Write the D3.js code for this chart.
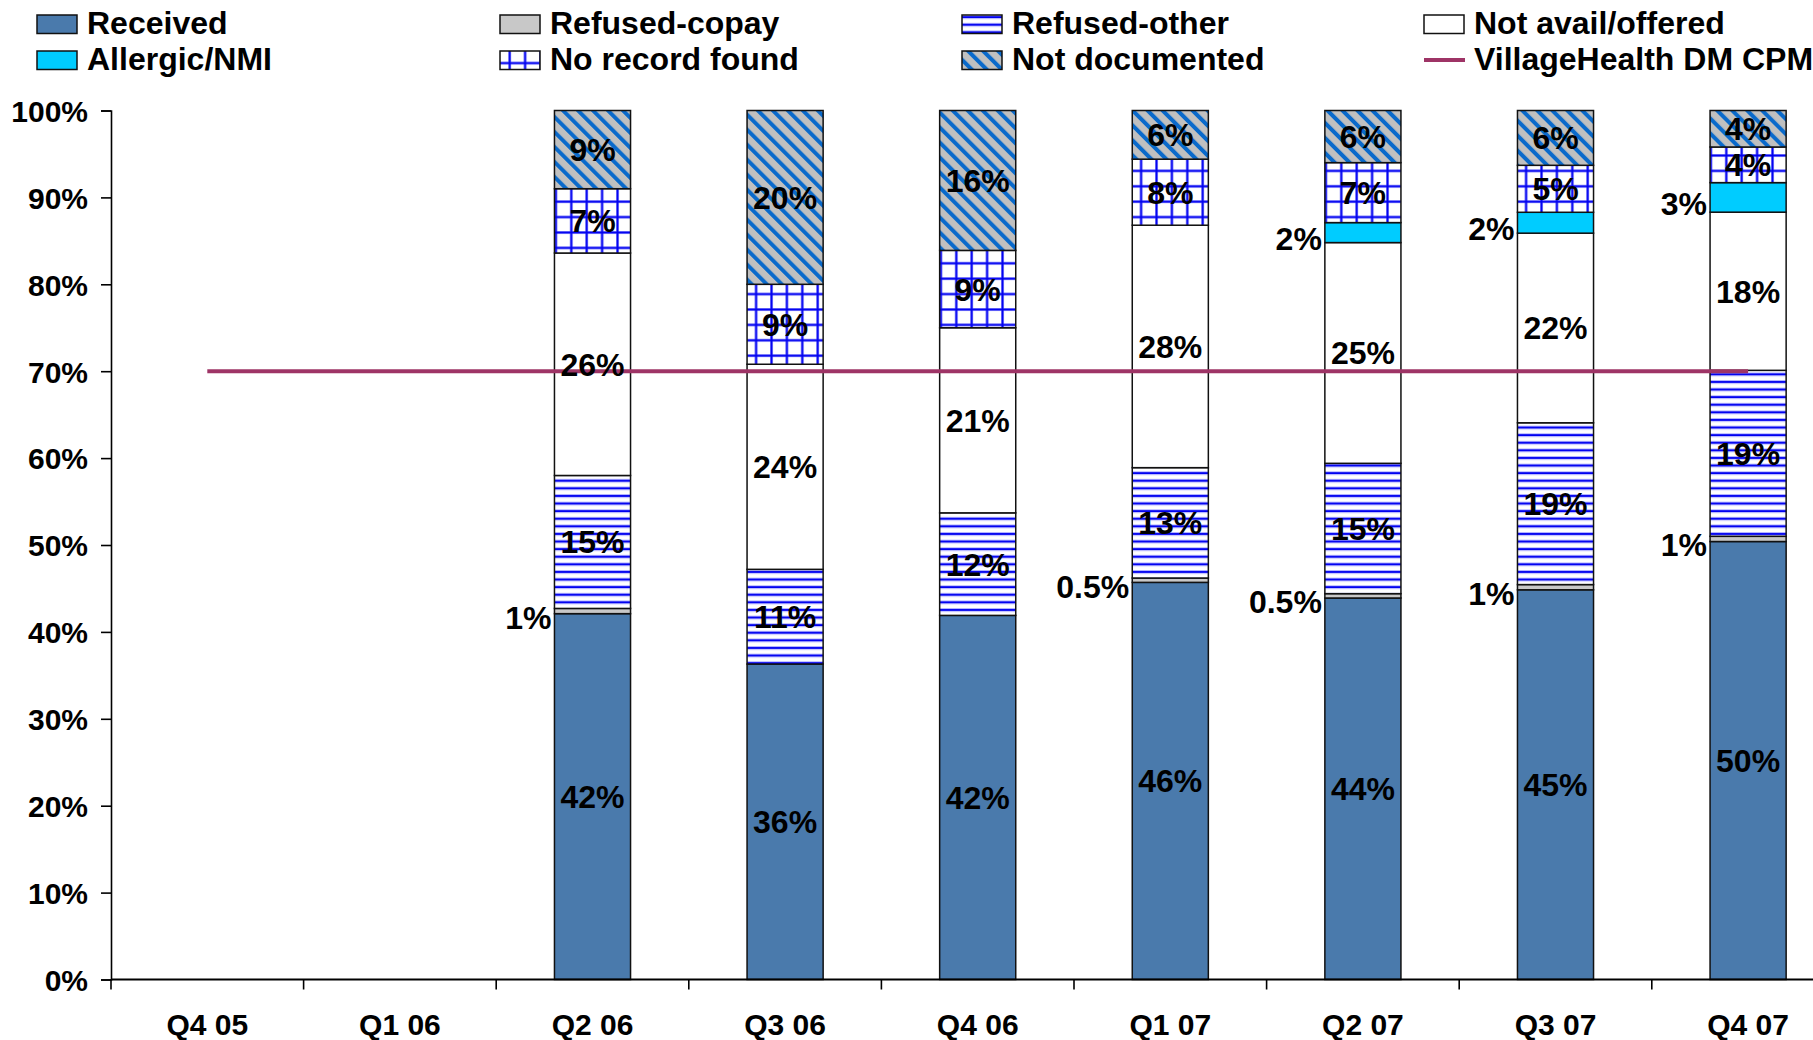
<!DOCTYPE html>
<html>
<head>
<meta charset="utf-8">
<script src="https://cdn.jsdelivr.net/npm/d3@7"></script>
<style>
  html, body { margin: 0; padding: 0; background: #fff; }
  svg { display: block; }
  text { font-family: "Liberation Sans", Arial, sans-serif; font-weight: bold; fill: #000; }
</style>
</head>
<body>
<svg id="chart" width="1813" height="1040"></svg>
<script>
// ---------------- data ----------------
const categories = ["Q4 05", "Q1 06", "Q2 06", "Q3 06", "Q4 06", "Q1 07", "Q2 07", "Q3 07", "Q4 07"];
const received      = [null, null, 42.1, 36.3, 41.9, 45.7, 43.9, 44.8, 50.4];
const refusedCopay  = [null, null, 0.6, 0, 0, 0.5, 0.5, 0.6, 0.6];
const refusedOther  = [null, null, 15.3, 10.9, 11.8, 12.7, 15.0, 18.6, 19.1];
const notAvail      = [null, null, 25.6, 23.6, 21.3, 27.9, 25.4, 21.8, 18.2];
const allergic      = [null, null, 0, 0, 0, 0, 2.3, 2.4, 3.4];
const noRecord      = [null, null, 7.4, 9.2, 8.9, 7.6, 6.9, 5.4, 4.1];
const notDocumented = [null, null, 9.0, 20.0, 16.1, 5.6, 6.0, 6.3, 4.2];
const cpmTarget     = [70, 70, 70, 70, 70, 70, 70, 70, 70];
const yTicks        = [0, 10, 20, 30, 40, 50, 60, 70, 80, 90, 100];

const seriesNames = ["Received", "Refused-copay", "Refused-other", "Not avail/offered",
                     "Allergic/NMI", "No record found", "Not documented"];
const seriesValues = [received, refusedCopay, refusedOther, notAvail, allergic, noRecord, notDocumented];
const lineName = "VillageHealth DM CPM";

(function () {
// ---------------- setup ----------------
const svg = d3.select("#chart");
const W = 1813;
const plotLeft = 111, plotTop = 110.5, plotBottom = 979.5;
const step = 192.6;

const x = d3.scaleBand().domain(categories).range([plotLeft, plotLeft + step * categories.length]).padding(0);
const y = d3.scaleLinear().domain([0, 1]).range([plotBottom, plotTop]);
const barW = x.bandwidth() * 0.395;

// ---------------- patterns ----------------
const defs = svg.append("defs");
const pOther = defs.append("pattern").attr("id", "p-other").attr("patternUnits", "userSpaceOnUse")
  .attr("width", 8).attr("height", 7.6);
pOther.append("rect").attr("width", 8).attr("height", 7.6).attr("fill", "#fff");
pOther.append("rect").attr("y", 0).attr("width", 8).attr("height", 1).attr("fill", "#b8b8ff");
pOther.append("rect").attr("y", 1).attr("width", 8).attr("height", 2).attr("fill", "#0000f0");
pOther.append("rect").attr("y", 3).attr("width", 8).attr("height", 1).attr("fill", "#b8b8ff");

const g = 15.4;
const pGrid = defs.append("pattern").attr("id", "p-grid").attr("patternUnits", "userSpaceOnUse")
  .attr("width", g).attr("height", g);
pGrid.append("rect").attr("width", g).attr("height", g).attr("fill", "#fff");
pGrid.append("rect").attr("x", 0).attr("width", 3).attr("height", g).attr("fill", "#b8b8ff");
pGrid.append("rect").attr("y", 0).attr("width", g).attr("height", 3).attr("fill", "#b8b8ff");
pGrid.append("rect").attr("x", 0.5).attr("width", 2).attr("height", g).attr("fill", "#0000f0");
pGrid.append("rect").attr("y", 0.5).attr("width", g).attr("height", 2).attr("fill", "#0000f0");

const dd = 10.6;
const pDiag = defs.append("pattern").attr("id", "p-diag").attr("patternUnits", "userSpaceOnUse")
  .attr("width", dd).attr("height", dd).attr("patternTransform", "rotate(-45)");
pDiag.append("rect").attr("width", dd).attr("height", dd).attr("fill", "#c0c0c0");
pDiag.append("rect").attr("x", 0).attr("width", 4).attr("height", dd).attr("fill", "#0a6acb");

const fills = ["#4a7aac", "#c8c8c8", "url(#p-other)", "#ffffff", "#00ccff", "url(#p-grid)", "url(#p-diag)"];
const lineColor = "#9e3466";

// ---------------- stack ----------------
const rows = categories.map((c, i) => {
  const r = { cat: c };
  seriesNames.forEach((s, k) => r[s] = seriesValues[k][i] || 0);
  return r;
});
const stacked = d3.stack().keys(seriesNames).offset(d3.stackOffsetExpand)(rows);

const fmt = v => v < 0.55 ? d3.format(".1f")(v) + "%" : Math.round(v) + "%";

// ---------------- bars ----------------
const barsG = svg.append("g");
stacked.forEach((layer, k) => {
  layer.forEach((seg, i) => {
    const h = y(seg[0]) - y(seg[1]);
    if (!(h > 0)) return;
    barsG.append("rect")
      .attr("x", x(categories[i]) + (x.bandwidth() - barW) / 2)
      .attr("y", y(seg[1]))
      .attr("width", barW)
      .attr("height", h)
      .attr("fill", fills[k])
      .attr("stroke", "#111")
      .attr("stroke-width", 1.5);
  });
});

// ---------------- axes ----------------
const yAxis = svg.append("g").attr("transform", `translate(${plotLeft},0)`)
  .call(d3.axisLeft(y).tickValues(yTicks.map(t => t / 100)).tickFormat(d3.format(".0%"))
    .tickSize(10).tickPadding(13));
yAxis.selectAll("text").style("font-size", "30px").attr("dy", "0.36em");
yAxis.selectAll("line, path").attr("stroke", "#000").attr("stroke-width", 1.6);

const xAxis = svg.append("g").attr("transform", `translate(0,${plotBottom})`)
  .call(d3.axisBottom(x).tickSize(0).tickPadding(34));
xAxis.select(".domain").attr("stroke", "#000").attr("stroke-width", 1.8).attr("d", `M${plotLeft},0H${W + 50}`);
xAxis.selectAll("text").style("font-size", "30px").attr("dy", "0.71em");
// category boundary ticks
svg.append("g").selectAll("line").data(categories).join("line")
  .attr("x1", c => x(c)).attr("x2", c => x(c))
  .attr("y1", plotBottom).attr("y2", plotBottom + 10)
  .attr("stroke", "#000").attr("stroke-width", 1.6);

// ---------------- target line ----------------
svg.append("path")
  .datum(categories.map((c, i) => ({ c, v: cpmTarget[i] })))
  .attr("d", d3.line().x(p => x(p.c) + x.bandwidth() / 2).y(p => y(p.v / 100)))
  .attr("fill", "none").attr("stroke", lineColor).attr("stroke-width", 4);

// ---------------- data labels ----------------
const labelsG = svg.append("g");
stacked.forEach((layer, k) => {
  layer.forEach((seg, i) => {
    const raw = seriesValues[k][i];
    if (!raw) return;
    const cx = x(categories[i]) + x.bandwidth() / 2;
    const cy = y((seg[0] + seg[1]) / 2);
    const outside = (k === 1 || k === 4);
    labelsG.append("text")
      .attr("x", outside ? cx - barW / 2 - 3 : cx)
      .attr("y", outside ? cy + 6 : cy)
      .attr("dy", "0.36em")
      .attr("text-anchor", outside ? "end" : "middle")
      .style("font-size", "32px")
      .text(fmt(raw));
  });
});

// ---------------- legend ----------------
const legendItems = seriesNames.map((s, k) => ({ name: s, fill: fills[k], type: "rect" }));
legendItems.push({ name: lineName, type: "line" });
const legendOrder = ["Received", "Refused-copay", "Refused-other", "Not avail/offered",
                     "Allergic/NMI", "No record found", "Not documented", lineName];
const colX = [37, 500, 962, 1424];
const rowY = [15, 51];
const legend = svg.append("g");
legendOrder.forEach((name, idx) => {
  const it = legendItems.find(e => e.name === name);
  const cx = colX[idx % 4], ry = rowY[Math.floor(idx / 4)];
  if (it.type === "rect") {
    legend.append("rect").attr("x", cx).attr("y", ry).attr("width", 40).attr("height", 18.5)
      .attr("fill", it.fill).attr("stroke", "#111").attr("stroke-width", 1.5);
  } else {
    legend.append("line").attr("x1", cx).attr("x2", cx + 41).attr("y1", ry + 9).attr("y2", ry + 9)
      .attr("stroke", lineColor).attr("stroke-width", 4);
  }
  legend.append("text").attr("x", cx + 50).attr("y", ry + 19)
    .style("font-size", "32px").text(name);
});
})();
</script>
</body>
</html>
